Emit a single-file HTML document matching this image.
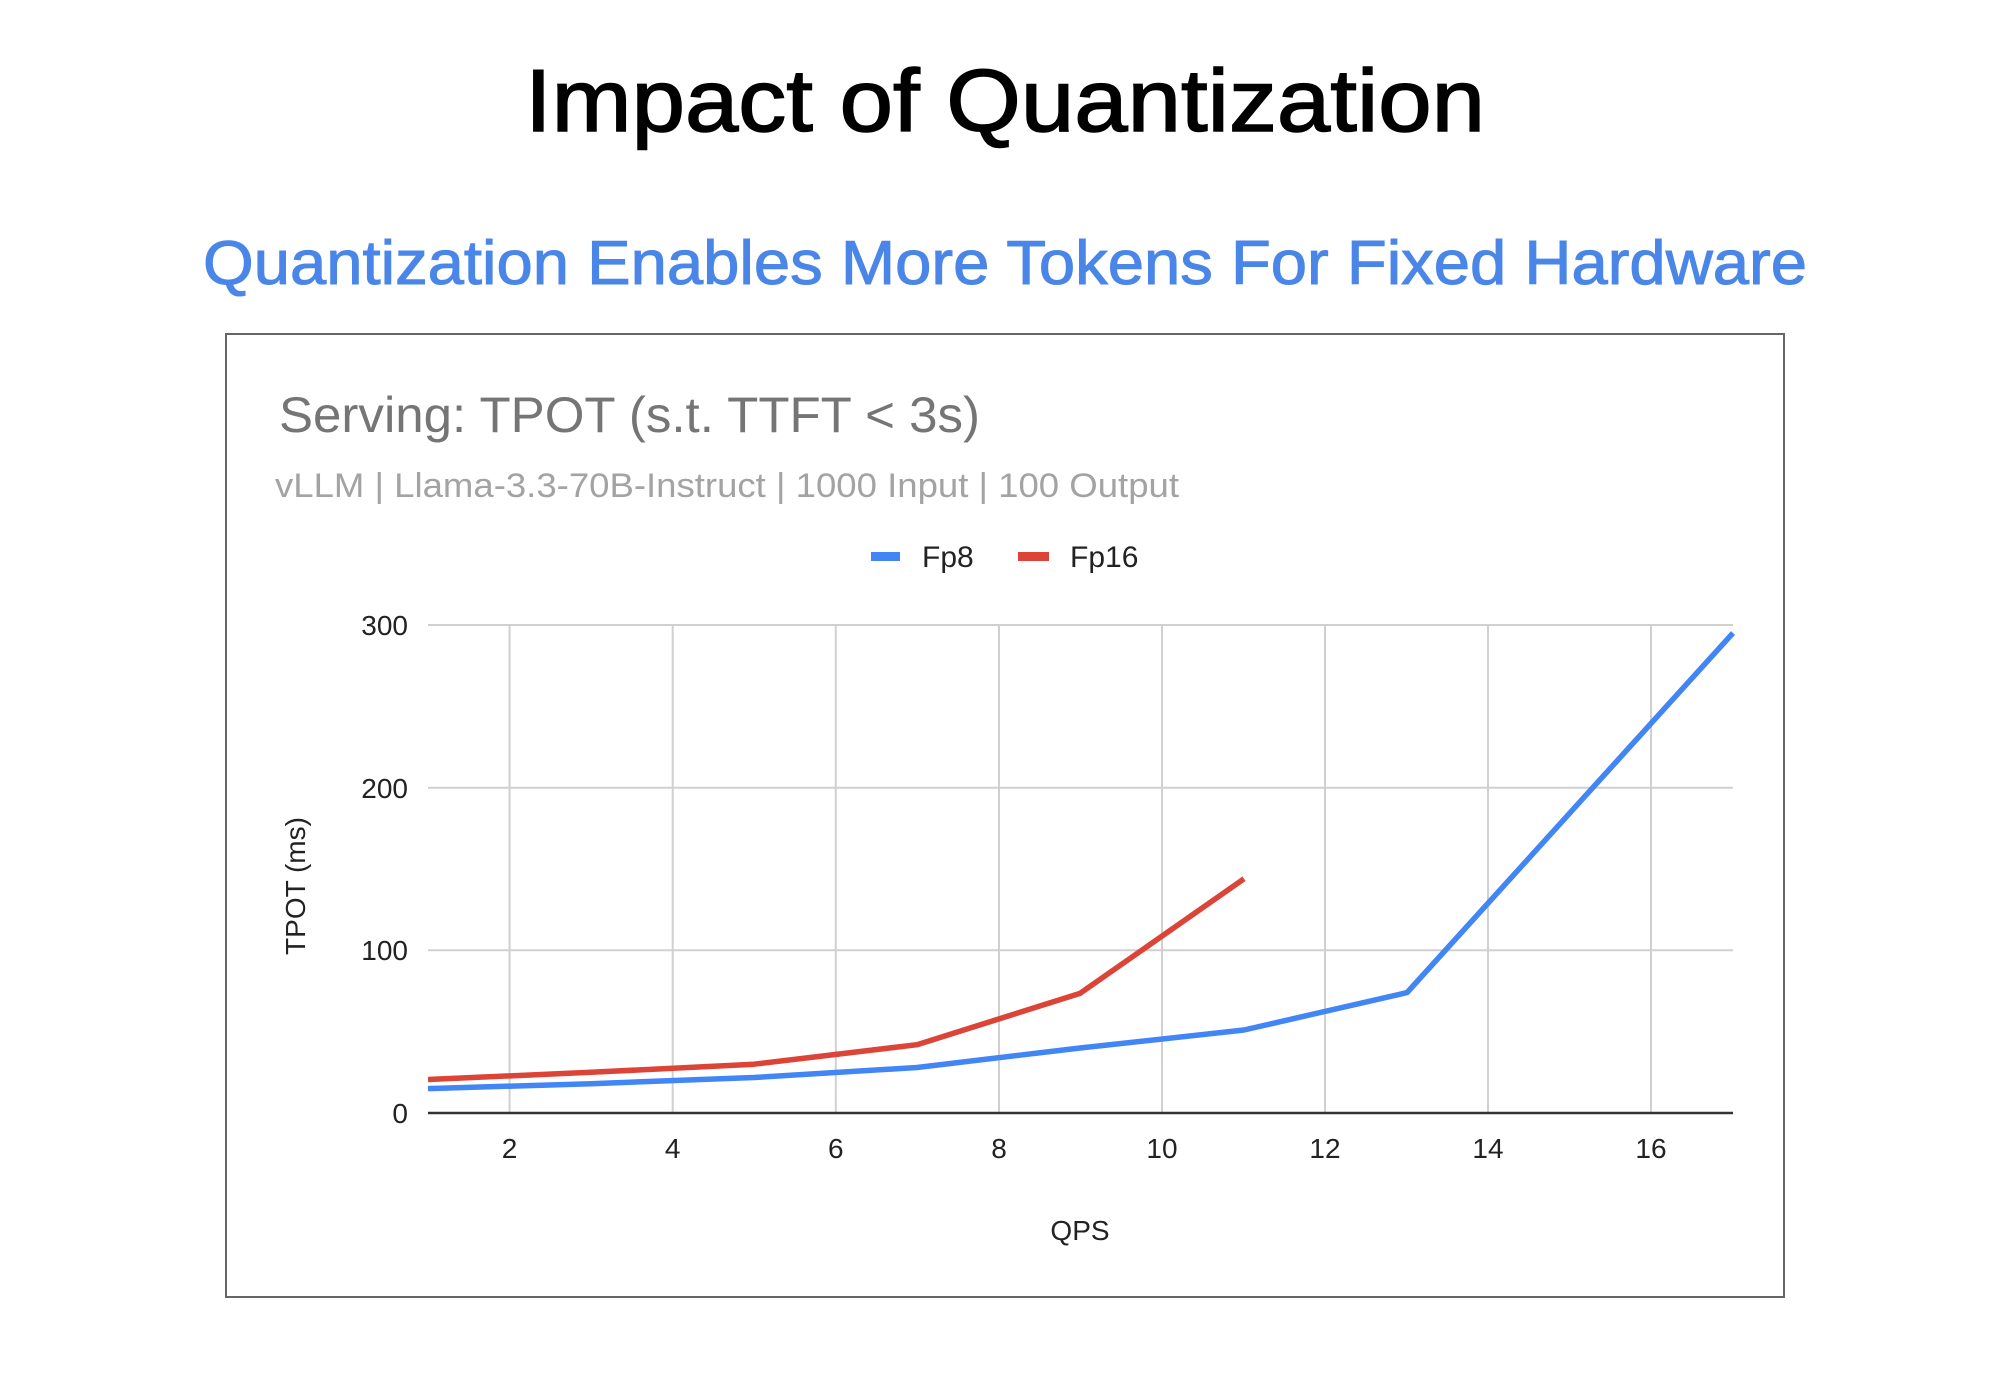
<!DOCTYPE html>
<html><head><meta charset="utf-8"><style>
html,body{margin:0;padding:0;background:#fff;}
svg{display:block;}
</style></head><body>
<svg width="2014" height="1374" viewBox="0 0 2014 1374" xmlns="http://www.w3.org/2000/svg">
<rect width="2014" height="1374" fill="#fff"/>
<text x="1005" y="131" text-anchor="middle" font-family="Liberation Sans, sans-serif" font-size="88" fill="#000" stroke="#000" stroke-width="1.5" textLength="960" lengthAdjust="spacingAndGlyphs">Impact of Quantization</text>
<text x="1005" y="284" text-anchor="middle" font-family="Liberation Sans, sans-serif" font-size="62" fill="#4a86e8" stroke="#4a86e8" stroke-width="1" textLength="1604" lengthAdjust="spacingAndGlyphs">Quantization Enables More Tokens For Fixed Hardware</text>
<rect x="226" y="334" width="1558" height="963" fill="#fff" stroke="#666" stroke-width="2"/>
<text x="279" y="432" font-family="Liberation Sans, sans-serif" font-size="50" fill="#757575" textLength="701" lengthAdjust="spacingAndGlyphs">Serving: TPOT (s.t. TTFT &lt; 3s)</text>
<text x="275" y="497" font-family="Liberation Sans, sans-serif" font-size="34" fill="#a3a3a3" textLength="904" lengthAdjust="spacingAndGlyphs">vLLM | Llama-3.3-70B-Instruct | 1000 Input | 100 Output</text>
<rect x="871" y="552" width="29" height="9" fill="#4285f4"/>
<text x="922" y="567" font-family="Liberation Sans, sans-serif" font-size="30" fill="#222">Fp8</text>
<rect x="1018" y="552" width="31" height="9" fill="#db4437"/>
<text x="1070" y="567" font-family="Liberation Sans, sans-serif" font-size="30" fill="#222">Fp16</text>
<g stroke="#d0d0d0" stroke-width="2">
<line x1="428" y1="625" x2="1733" y2="625"/>
<line x1="428" y1="787.7" x2="1733" y2="787.7"/>
<line x1="428" y1="950.3" x2="1733" y2="950.3"/>
<line x1="509.6" y1="625" x2="509.6" y2="1113"/>
<line x1="672.7" y1="625" x2="672.7" y2="1113"/>
<line x1="835.8" y1="625" x2="835.8" y2="1113"/>
<line x1="999" y1="625" x2="999" y2="1113"/>
<line x1="1162" y1="625" x2="1162" y2="1113"/>
<line x1="1325" y1="625" x2="1325" y2="1113"/>
<line x1="1488" y1="625" x2="1488" y2="1113"/>
<line x1="1651" y1="625" x2="1651" y2="1113"/>
</g>
<line x1="428" y1="1113" x2="1733" y2="1113" stroke="#333" stroke-width="2.5"/>
<g font-family="Liberation Sans, sans-serif" font-size="28" fill="#222" text-anchor="end">
<text x="408" y="635">300</text>
<text x="408" y="798">200</text>
<text x="408" y="960">100</text>
<text x="408" y="1123">0</text>
</g>
<g font-family="Liberation Sans, sans-serif" font-size="28" fill="#222" text-anchor="middle">
<text x="509.6" y="1158">2</text>
<text x="672.7" y="1158">4</text>
<text x="835.8" y="1158">6</text>
<text x="999" y="1158">8</text>
<text x="1162" y="1158">10</text>
<text x="1325" y="1158">12</text>
<text x="1488" y="1158">14</text>
<text x="1651" y="1158">16</text>
<text x="1080" y="1240">QPS</text>
<text transform="translate(305,886) rotate(-90)" x="0" y="0">TPOT (ms)</text>
</g>
<polyline fill="none" stroke="#db4437" stroke-width="5.5" stroke-linejoin="round" points="428,1079.5 591,1072.3 754,1064.2 917,1044.7 1080,993.4 1244,878.8"/>
<polyline fill="none" stroke="#4285f4" stroke-width="5.5" stroke-linejoin="round" points="428,1088.6 591,1083.7 754,1077.5 917,1067.5 1080,1048 1244,1030 1407,992.6 1733,633"/>
</svg>
</body></html>
